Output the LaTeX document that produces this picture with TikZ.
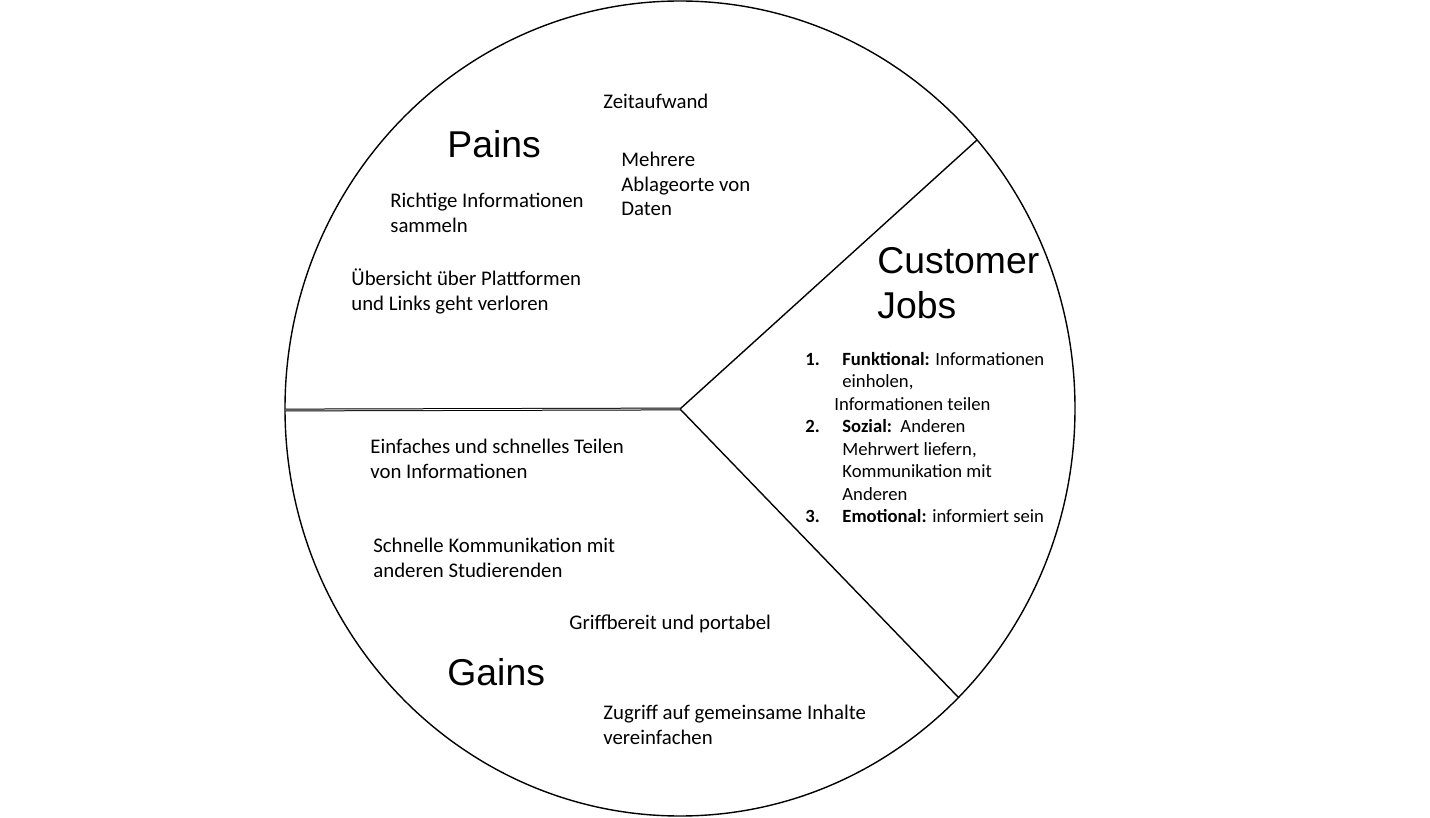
\documentclass[tikz,border=0pt]{standalone}
\usepackage{fontspec}
\setmainfont{Carlito}
\newfontfamily\titlefont{Liberation Sans}

\begin{document}
\begin{tikzpicture}[x=0.5pt,y=-0.5pt,
    label/.style={anchor=base west,inner sep=0pt,align=left,font=\fontsize{10.4}{12.3}\selectfont},
    jobtext/.style={anchor=base west,inner sep=0pt,align=left,font=\fontsize{9.33}{11.25}\selectfont},
    heading/.style={anchor=base west,inner sep=0pt,align=left,font=\titlefont\fontsize{18.67}{22.5}\selectfont}]

    \useasboundingbox (0,0) rectangle (1430,818);

    % draw circle
    \draw[line width=0.7pt] (680,408.5) ellipse [x radius=395, y radius=407.5];

    % sector lines
    \coordinate (hub) at (680,409);
    \coordinate (jobstop) at (977,140);
    \coordinate (jobsbottom) at (959,698);
    \coordinate (leftrim) at (285,410);
    \draw[line width=0.7pt] (hub) -- (jobstop);
    \draw[line width=0.7pt] (hub) -- (jobsbottom);
    \draw[double,line width=0.5pt,double distance=0.4pt] (hub) -- (leftrim);

    % pains (multi-line nodes sit on their last baseline)
    \node[heading] (pains) at (447,158) {Pains};
    \node[label] (zeit) at (603,109) {Zeitaufwand};
    \node[label] (ablage) at (621,216) {Mehrere\\Ablageorte von\\Daten};
    \node[label] (richtig) at (390,232.5) {Richtige Informationen\\sammeln};
    \node[label] (uebersicht) at (351,310.5) {Übersicht über Plattformen\\und Links geht verloren};

    % customer jobs
    \node[heading] (jobs) at (877,319) {Customer\\Jobs};
    \node[jobtext] (n1) at (805,365) {\textbf{1.}};
    \node[jobtext] (j1) at (842,410) {\textbf{Funktional:} Informationen\\einholen,\\\hspace*{-4pt}Informationen teilen};
    \node[jobtext] (n2) at (805,432.5) {\textbf{2.}};
    \node[jobtext] (j2) at (842,500) {\textbf{Sozial:}~~Anderen\\Mehrwert liefern,\\Kommunikation mit\\Anderen};
    \node[jobtext] (n3) at (805,522.5) {\textbf{3.}};
    \node[jobtext] (j3) at (842,522.5) {\textbf{Emotional:} informiert sein};

    % gains
    \node[label] (teilen) at (370,478.5) {Einfaches und schnelles Teilen\\von Informationen};
    \node[label] (komm) at (373,577.5) {Schnelle Kommunikation mit\\anderen Studierenden};
    \node[label] (griff) at (569,629) {Griffbereit und portabel};
    \node[heading] (gains) at (447,685) {Gains};
    \node[label] (zugriff) at (603,744.5) {Zugriff auf gemeinsame Inhalte\\vereinfachen};

\end{tikzpicture}
\end{document}
